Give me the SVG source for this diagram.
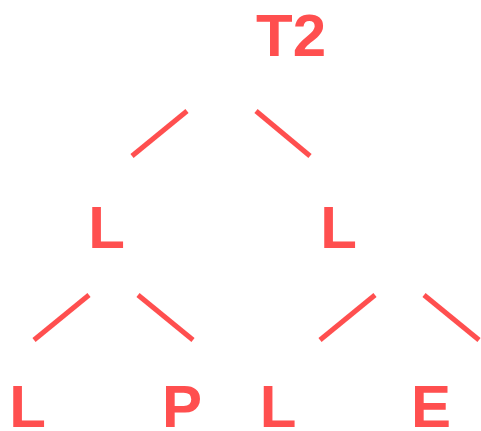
<svg xmlns="http://www.w3.org/2000/svg" width="481" height="431" viewBox="0 0 481 431">
<style>
.t{font-family:"Liberation Sans",Arial,sans-serif;font-weight:bold;font-size:60px;fill:#ff4f4f;text-anchor:middle}
.e{stroke:#ff4f4f;stroke-width:5;fill:none}
</style>
<rect width="481" height="431" fill="#ffffff"/>
<g id="connectors">
<line class="e" x1="187" y1="111" x2="132" y2="156"/>
<line class="e" x1="256" y1="111" x2="310" y2="156"/>
<line class="e" x1="89" y1="295" x2="34" y2="340"/>
<line class="e" x1="138" y1="295" x2="193" y2="340"/>
<line class="e" x1="375" y1="295" x2="320" y2="340"/>
<line class="e" x1="424" y1="295" x2="479" y2="340"/>
</g>
<g id="n-root"><text class="t" x="291" y="56">T2</text></g>
<g id="n-l"><text class="t" x="106.5" y="248">L</text></g>
<g id="n-r"><text class="t" x="338.5" y="248">L</text></g>
<g id="n-ll"><text class="t" x="27.5" y="427">L</text></g>
<g id="n-lr"><text class="t" x="182" y="427">P</text></g>
<g id="n-rl"><text class="t" x="278" y="427">L</text></g>
<g id="n-rr"><text class="t" x="431" y="427">E</text></g>
</svg>
